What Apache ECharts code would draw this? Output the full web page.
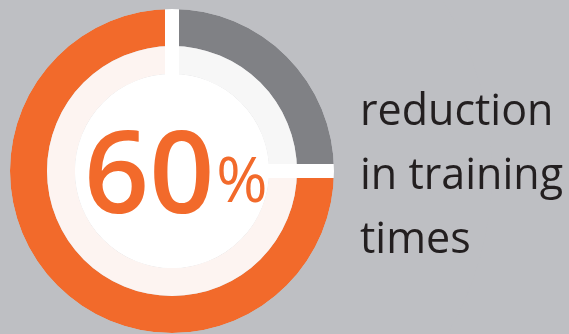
<!DOCTYPE html>
<html>
<head>
<meta charset="utf-8">
<script src="https://cdn.jsdelivr.net/npm/echarts@6/dist/echarts.min.js"></script>
<style>
  html, body { margin: 0; padding: 0; background: #bebfc3; }
  #chart { width: 569px; height: 334px; }
</style>
</head>
<body>
<div id="chart"></div>
<script>
// ring slices, clockwise from 12 o'clock
var ringNames = ['rest', 'reduction'];
var ringValues = [25, 75];
var headline = '60';
var caption = ['reduction', 'in training', 'times'];

var bg = '#bebfc3';
var ringColors = ['#808185', '#f26a2b'];
var bandColors = ['#f7f7f7', '#fdf4f1'];
var center = [172, 171];

function slices(colors) {
	var list = [];
	for (var i = 0; i < ringValues.length; i++) {
		list.push({ name: ringNames[i], value: ringValues[i], itemStyle: { color: colors[i] } });
	}
	return list;
}

function pie(radius, data, z, extra) {
	var s = {
		type: 'pie',
		center: center,
		radius: radius,
		startAngle: 90,
		clockwise: true,
		silent: true,
		z: z,
		label: { show: false },
		labelLine: { show: false },
		data: data
	};
	for (var k in extra) s[k] = extra[k];
	return s;
}

var chart = echarts.init(document.getElementById('chart'));
var option = {
	backgroundColor: bg,
	animation: false,
	title: [{
		text: '{a|' + headline + '}{b|%}',
		left: 84,
		top: 124,
		padding: 0,
		textStyle: {
			rich: {
				a: { fontFamily: 'Open Sans', fontSize: 114, color: '#f26a2b', fontWeight: 600 },
				b: { fontFamily: 'Open Sans', fontSize: 62, color: '#f26a2b', fontWeight: 'normal', padding: [6, 0, 0, 2] }
			}
		}
	}, {
		text: caption.join('\n'),
		left: 360,
		top: 81,
		padding: 0,
		textStyle: {
			fontFamily: 'Open Sans',
			fontSize: 43,
			fontWeight: 'normal',
			lineHeight: 64,
			color: '#231f20'
		}
	}],
	series: [
		pie([125, 162], slices(ringColors), 2),
		pie([97, 125], slices(bandColors), 2),
		// white separators between slices
		pie([90, 170], slices(['rgba(0,0,0,0)', 'rgba(0,0,0,0)']), 3, {
			itemStyle: { borderColor: '#ffffff', borderWidth: 14 }
		}),
		pie([0, 97], [{ value: 1, itemStyle: { color: '#ffffff' } }], 4),
		pie([162, 320], [{ value: 1, itemStyle: { color: bg } }], 4)
	]
};
chart.setOption(option);
</script>
</body>
</html>
